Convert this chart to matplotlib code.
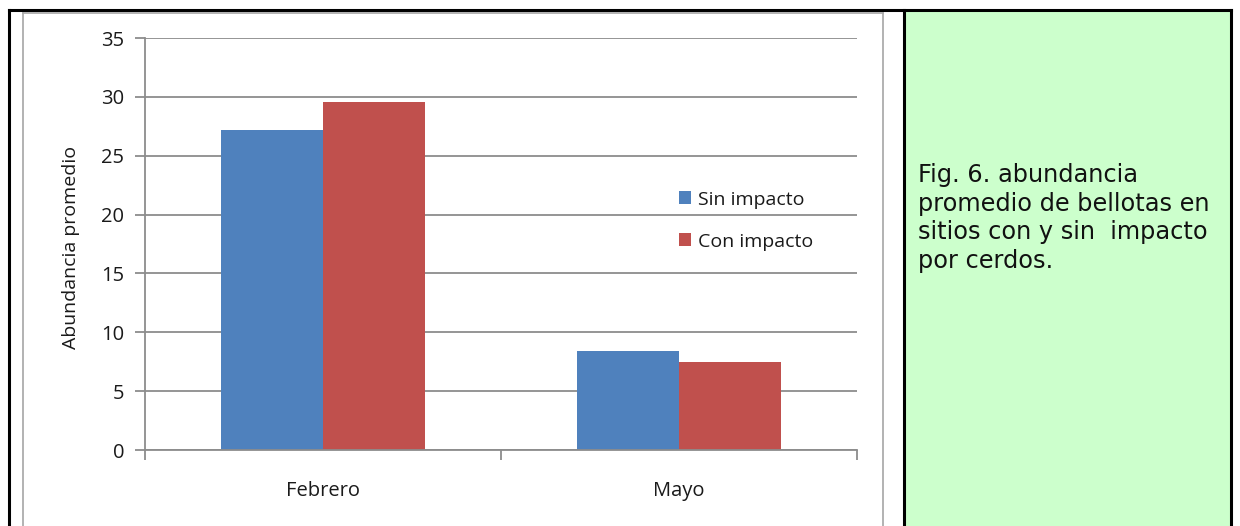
import matplotlib
matplotlib.use('Agg')
import matplotlib.pyplot as plt
from matplotlib.patches import Rectangle
from matplotlib.lines import Line2D

meses = ['Febrero', 'Mayo']
sin_impacto = [27.2, 8.4]
con_impacto = [29.6, 7.5]
series = ['Sin impacto', 'Con impacto']
colores = ['#4F81BD', '#C0504D']
y_ticks = [0, 5, 10, 15, 20, 25, 30, 35]
leyenda_fig = 'Fig. 6. abundancia\npromedio de bellotas en\nsitios con y sin  impacto\npor cerdos.'

W, H = 1240, 526
fig = plt.figure(figsize=(W / 100, H / 100), dpi=100)
fig.patch.set_facecolor('white')

def fx(px):
    return px / W

def fy(py):
    return 1 - py / H

# marco negro exterior y panel verde
fig.patches.append(Rectangle((fx(904), fy(540)), fx(1230 - 904), (540 - 10) / H,
                             transform=fig.transFigure, facecolor='#CCFFCC',
                             edgecolor='none', zorder=0))
for xs, ys in [((9, 1231), (10, 10)), ((9, 9), (10, 526)), ((1231, 1231), (10, 526)),
               ((904, 904), (10, 526))]:
    fig.add_artist(Line2D([fx(xs[0]), fx(xs[1])], [fy(ys[0]), fy(ys[1])],
                          transform=fig.transFigure, color='black', lw=2.2))

# marco gris del grafico
for xs, ys in [((23, 883), (13, 13)), ((23, 23), (13, 526)), ((883, 883), (13, 526))]:
    fig.add_artist(Line2D([fx(xs[0]), fx(xs[1])], [fy(ys[0]), fy(ys[1])],
                          transform=fig.transFigure, color='#A6A6A6', lw=1.2))

ax = fig.add_axes([fx(145), fy(450), fx(857 - 145), (450 - 38) / H])
ax.set_facecolor('none')

x = range(len(meses))
w = 1 / 3.5
ax.bar([i - w / 2 for i in x], sin_impacto, width=w, color=colores[0], label=series[0], zorder=2)
ax.bar([i + w / 2 for i in x], con_impacto, width=w, color=colores[1], label=series[1], zorder=2)

ax.set_xlim(-0.5, 1.5)
ax.set_ylim(0, 35)
ax.set_yticks(y_ticks)
ax.grid(axis='y', color='#8C8C8C', lw=1.3, zorder=0)
ax.set_axisbelow(True)

for s in ['top', 'right']:
    ax.spines[s].set_visible(False)
for s in ['left', 'bottom']:
    ax.spines[s].set_color('#8C8C8C')
    ax.spines[s].set_linewidth(1.3)

ax.tick_params(axis='y', length=7, width=1.3, color='#8C8C8C', labelsize=14.5, pad=8,
               labelcolor='#1a1a1a')
ax.set_xticks(list(x))
ax.set_xticklabels(meses, fontsize=14.5, color='#1a1a1a')
ax.tick_params(axis='x', which='major', length=0, pad=22)
ax.set_xticks([-0.5, 0.5, 1.5], minor=True)
ax.tick_params(axis='x', which='minor', length=7, width=1.3, color='#8C8C8C')
for lab in ax.get_yticklabels() + ax.get_xticklabels():
    lab.set_fontfamily('Open Sans')

fig.text(fx(71), fy(247), 'Abundancia promedio', rotation=90, ha='center', va='center',
         fontsize=14, family='Open Sans', color='#1a1a1a')

ax.legend(loc='upper left', bbox_to_anchor=(fx(661), fy(173)), bbox_transform=fig.transFigure,
          frameon=False, prop={'family': 'Open Sans', 'size': 14}, handlelength=0.65,
          handleheight=0.65, handletextpad=0.35, labelspacing=1.25, labelcolor='#1a1a1a')

fig.text(fx(918), fy(163), leyenda_fig, ha='left', va='top', fontsize=17.3,
         family='DejaVu Sans', linespacing=1.25, color='#111111')

fig.savefig('out.png', dpi=100)
